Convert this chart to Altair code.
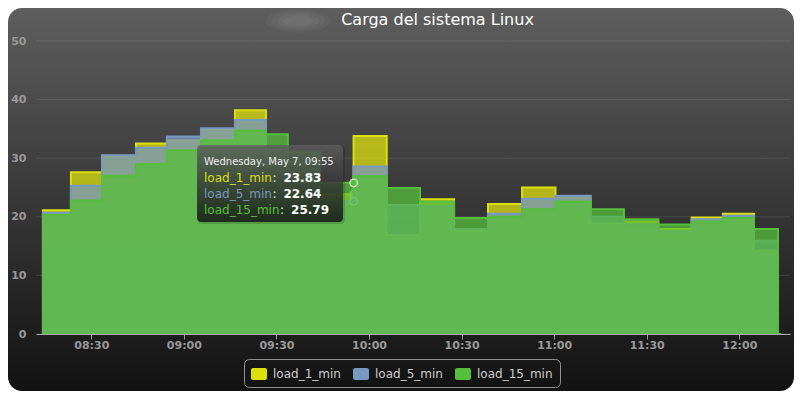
import altair as alt
import pandas as pd

# ---------------- data ----------------
DAY = "2014-05-07"
times = ["08:14:00", "08:23:24", "08:33:30", "08:44:30", "08:54:30", "09:05:33",
         "09:16:34", "09:26:36", "09:33:42", "09:44:06", "09:55:00", "10:05:44",
         "10:16:32", "10:27:34", "10:38:34", "10:49:36", "11:00:26", "11:11:47",
         "11:22:37", "11:33:45", "11:44:34", "11:54:42", "12:04:46", "12:12:33",
         "12:13:30"]
load_1_min = [21.1, 21.1, 27.6, 30.4, 32.5, 33.0, 35.0, 38.2, 30.5, 28.0, 23.83, 33.8,
              16.9, 23.0, 17.7, 22.2, 25.0, 23.5, 18.9, 19.2, 17.9, 19.9, 20.5, 14.2, 0]
load_5_min = [20.7, 20.7, 25.3, 30.5, 31.8, 33.7, 35.1, 36.5, 31.5, 29.5, 22.64, 28.6,
              22.0, 21.8, 17.9, 20.5, 23.1, 23.6, 20.0, 18.7, 17.5, 19.6, 20.2, 15.9, 0]
load_15_min = [20.3, 20.3, 22.8, 27.0, 29.0, 31.3, 33.0, 34.7, 34.1, 31.0, 25.79, 26.9,
               24.9, 22.6, 19.8, 20.0, 21.3, 22.6, 21.3, 19.6, 18.7, 19.2, 19.8, 17.9, 0]
series = ["load_1_min", "load_5_min", "load_15_min"]
colors = ["#DDDF0D", "#7798BF", "#55BF3B"]
y_ticks = [0, 10, 20, 30, 40, 50]
x_ticks = ["08:30", "09:00", "09:30", "10:00", "10:30", "11:00", "11:30", "12:00"]
x_domain = ["08:12:05", "12:16:26"]
title_text = "Carga del sistema Linux"
tooltip_time = "09:55:00"
tooltip_header = "Wednesday, May 7, 09:55"

values_by_series = [load_1_min, load_5_min, load_15_min]

rows = []
for name, vals in zip(series, values_by_series):
    for t, v in zip(times, vals):
        rows.append({"time": f"{DAY}T{t}", "serie": name, "value": v})
df = pd.DataFrame(rows)


def dt(s):
    p = [int(x) for x in s.split(":")]
    while len(p) < 3:
        p.append(0)
    return alt.DateTime(year=2014, month=5, date=7, hours=p[0], minutes=p[1], seconds=p[2])


FONT = "DejaVu Sans"
W, H = 754, 293

x_enc = alt.X(
    "time:T",
    scale=alt.Scale(domain=[dt(x_domain[0]), dt(x_domain[1])]),
    axis=alt.Axis(values=[dt(t) for t in x_ticks], format="%H:%M", title=None, grid=False,
                  labelFont=FONT, labelFontSize=11, labelFontWeight="bold", labelColor="#999",
                  tickColor="#999", tickSize=5, tickWidth=1, domainColor="#aaa", domainWidth=1,
                  labelPadding=0, labelFlush=False, labelOverlap=False, zindex=1),
)
y_enc = alt.Y(
    "value:Q",
    scale=alt.Scale(domain=[0, 50], nice=False),
    axis=alt.Axis(values=y_ticks, title=None, grid=False, domain=False, ticks=False,
                  labelFont=FONT, labelFontSize=11, labelFontWeight="bold", labelColor="#999",
                  labelPadding=10, zindex=1),
)

sym_path = ("M -0.75 -0.75 L 0.75 -0.75 Q 1 -0.75 1 -0.5 L 1 0.5 Q 1 0.75 0.75 0.75 "
            "L -0.75 0.75 Q -1 0.75 -1 0.5 L -1 -0.5 Q -1 -0.75 -0.75 -0.75 Z")
legend = alt.Legend(orient="none", legendX=208, legendY=318, direction="horizontal", title=None,
                    symbolType=sym_path, symbolSize=256, symbolStrokeWidth=0, symbolOpacity=1,
                    labelFont=FONT, labelFontSize=12, labelColor="#ccc", labelOffset=6,
                    columnPadding=12, padding=7, strokeColor="#909090", cornerRadius=5)
color_enc = alt.Color("serie:N", scale=alt.Scale(domain=series, range=colors), legend=legend)

one = pd.DataFrame({"k": [0]})

# background of the whole chart
bg = alt.Chart(one).mark_rect(
    cornerRadius=14,
    fill=alt.LinearGradient(gradient="linear", x1=0, x2=0, y1=0, y2=1,
                            stops=[alt.GradientStop(color="#5e5e5e", offset=0),
                                   alt.GradientStop(color="#121212", offset=1)]),
).encode(x=alt.value(-28), x2=alt.value(W + 4), y=alt.value(-33), y2=alt.value(350))

# faint blurred smudge left of the title
ellipse = "M -1 0 A 1 0.35 0 1 0 1 0 A 1 0.35 0 1 0 -1 0 Z"
smudge = [
    alt.Chart(one).mark_point(shape=ellipse, filled=True, fill="white", opacity=0.035,
                              size=s * s, strokeWidth=0).encode(x=alt.value(262), y=alt.value(-20))
    for s in [66, 54, 42, 30]
]

grid = alt.Chart(pd.DataFrame({"value": y_ticks})).mark_rule(
    color="rgba(255,255,255,0.1)", strokeWidth=1).encode(y=y_enc)

layers = [bg] + smudge + [grid]
idx = times.index(tooltip_time)
for name, col, vals in zip(series, colors, values_by_series):
    base = alt.Chart(df).transform_filter(alt.datum.serie == name)
    area = base.mark_area(interpolate="step-before", fillOpacity=0.75).encode(
        x=x_enc, y=y_enc, color=color_enc)
    line = base.mark_line(interpolate="step-before", strokeWidth=2, color=col).encode(
        x=x_enc, y=y_enc)
    mk = alt.Chart(pd.DataFrame({"time": [f"{DAY}T{tooltip_time}"], "value": [vals[idx]]})).mark_point(
        shape="circle", filled=True, size=60, fill=col, stroke="white", strokeWidth=1, opacity=1
    ).encode(x=x_enc, y=y_enc)
    layers += [area, line, mk]

# tooltip box
tip_shadow = alt.Chart(one).mark_rect(cornerRadius=4, fill="black", opacity=0.15).encode(
    x=alt.value(162), x2=alt.value(309), y=alt.value(105), y2=alt.value(183))
tip_box = alt.Chart(one).mark_rect(
    cornerRadius=4,
    fill=alt.LinearGradient(gradient="linear", x1=0, x2=0, y1=0, y2=1,
                            stops=[alt.GradientStop(color="rgba(96,96,96,0.8)", offset=0),
                                   alt.GradientStop(color="rgba(16,16,16,0.8)", offset=1)]),
).encode(x=alt.value(161), x2=alt.value(307), y=alt.value(104), y2=alt.value(181))
layers += [tip_shadow, tip_box]

layers.append(alt.Chart(pd.DataFrame({"label": [tooltip_header]})).mark_text(
    align="left", baseline="middle", font=FONT, fontSize=10, color="#eee"
).encode(x=alt.value(168), y=alt.value(120.7), text="label:N"))

CW = {"l": .278, "o": .612, "a": .613, "d": .635, "_": .5, "1": .636, "5": .636,
      "m": .974, "i": .278, "n": .634}
x0 = 168
for i, (name, col, vals) in enumerate(zip(series, colors, values_by_series)):
    yy = 136.7 + 16 * i
    wname = sum(CW[c] for c in name) * 12
    layers.append(alt.Chart(pd.DataFrame({"label": [name]})).mark_text(
        align="left", baseline="middle", font=FONT, fontSize=12, color=col
    ).encode(x=alt.value(x0), y=alt.value(yy), text="label:N"))
    layers.append(alt.Chart(pd.DataFrame({"label": [":"]})).mark_text(
        align="left", baseline="middle", font=FONT, fontSize=12, color="#fff"
    ).encode(x=alt.value(x0 + wname + 0.5), y=alt.value(yy), text="label:N"))
    layers.append(alt.Chart(pd.DataFrame({"label": [f"{vals[idx]:.2f}"]})).mark_text(
        align="left", baseline="middle", font=FONT, fontSize=12, fontWeight="bold", color="#fff"
    ).encode(x=alt.value(x0 + wname + 11.5), y=alt.value(yy), text="label:N"))

# title
layers.append(alt.Chart(pd.DataFrame({"label": [title_text]})).mark_text(
    align="center", baseline="alphabetic", font=FONT, fontSize=16, color="#fff"
).encode(x=alt.value(401.5), y=alt.value(-16), text="label:N"))

chart = alt.layer(*layers).properties(
    width=W, height=H,
    padding={"left": 28, "top": 33, "right": 4, "bottom": 57},
    autosize=alt.AutoSizeParams(type="none"),
).configure_view(stroke=None).configure(font=FONT)

chart.save("out.html", embed_options={"renderer": "svg", "actions": False})
